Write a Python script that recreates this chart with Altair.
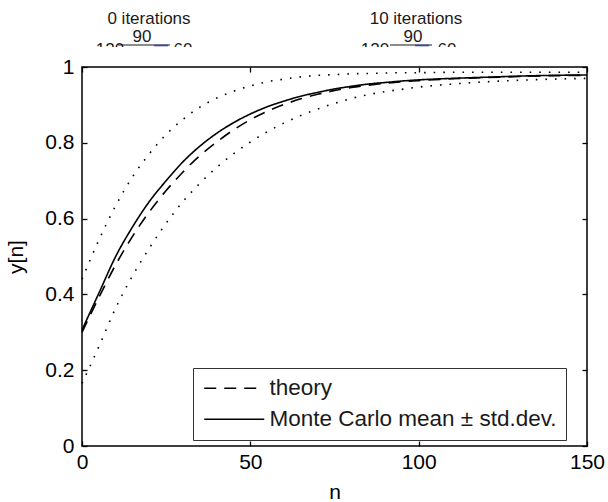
import altair as alt
import pandas as pd

# ---- data ----
n_vals = [0, 5, 10, 15, 20, 25, 30, 35, 40, 45, 50, 55, 60, 65, 70, 75, 80, 85, 90, 95, 100,
          110, 120, 130, 140, 150]
theory = [0.300, 0.392, 0.478, 0.553, 0.618, 0.674, 0.723, 0.766, 0.802, 0.834, 0.861, 0.883,
          0.901, 0.916, 0.928, 0.938, 0.946, 0.952, 0.957, 0.961, 0.964,
          0.969, 0.972, 0.975, 0.977, 0.978]
mc_mean = [0.306, 0.403, 0.500, 0.578, 0.645, 0.700, 0.750, 0.791, 0.825, 0.853, 0.876, 0.895,
           0.910, 0.923, 0.933, 0.942, 0.949, 0.955, 0.959, 0.963, 0.966,
           0.970, 0.973, 0.976, 0.978, 0.979]
mc_upper = [0.440, 0.543, 0.634, 0.710, 0.771, 0.822, 0.862, 0.894, 0.918, 0.936, 0.950, 0.961,
            0.968, 0.974, 0.978, 0.980, 0.982, 0.983, 0.984, 0.985, 0.985,
            0.986, 0.986, 0.986, 0.986, 0.986]
mc_lower = [0.165, 0.262, 0.364, 0.449, 0.522, 0.588, 0.645, 0.693, 0.735, 0.771, 0.802, 0.829,
            0.852, 0.872, 0.889, 0.904, 0.917, 0.927, 0.935, 0.941, 0.947,
            0.955, 0.961, 0.965, 0.968, 0.970]

x_ticks = [0, 50, 100, 150]
y_ticks = [0, 0.2, 0.4, 0.6, 0.8, 1]

THEORY = "theory"
MC = "Monte Carlo mean \u00b1 std.dev."
UP = "mean + std.dev."
LO = "mean - std.dev."

rows = []
for name, vals in [(THEORY, theory), (MC, mc_mean), (UP, mc_upper), (LO, mc_lower)]:
    for n, v in zip(n_vals, vals):
        rows.append({"n": n, "y": v, "series": name})
df = pd.DataFrame(rows)

FONT = "Liberation Sans"

x_scale = alt.Scale(domain=[0, 150], nice=False, zero=False)
y_scale = alt.Scale(domain=[0, 1], nice=False)
dash_scale = alt.Scale(domain=[THEORY, MC, UP, LO],
                       range=[[12, 8], [1, 0], [1.6, 8], [1.6, 8]])

common_axis = dict(offset=-5, tickSize=5, domain=False, grid=False, tickColor="black",
                   tickWidth=1.3, labelFont=FONT, labelFontSize=21, labelColor="black",
                   labelFlush=False, labelOverlap=False, titleFont=FONT, titleFontSize=21,
                   titleFontWeight="normal", titleColor="black")

main = alt.Chart(df).mark_line(color="black", strokeWidth=1.6, interpolate="monotone",
                               strokeCap="butt").encode(
    x=alt.X("n:Q", scale=x_scale,
            axis=alt.Axis(values=x_ticks, title="n", orient="bottom", labelPadding=5,
                          titlePadding=9, **common_axis)),
    y=alt.Y("y:Q", scale=y_scale,
            axis=alt.Axis(values=y_ticks, format="~g", title="y[n]", orient="left",
                          labelPadding=8, titlePadding=18, **common_axis)),
    strokeDash=alt.StrokeDash(
        "series:N", scale=dash_scale,
        legend=alt.Legend(title=None, orient="none", legendX=111, legendY=301,
                          values=[THEORY, MC], symbolType="M-4,0H4", symbolSize=225,
                          symbolOffset=21,
                          symbolStrokeWidth=1.6, symbolStrokeColor="black",
                          labelFont=FONT, labelFontSize=22.5, labelColor="#1a1a1a",
                          labelLimit=1000, labelOffset=24, strokeColor="#333333",
                          fillColor="white", padding=9, rowPadding=8)),
    order="n:Q",
)

ghost_axis = dict(common_axis)
ghost = alt.Chart(df).mark_line(opacity=0).encode(
    x=alt.X("n:Q", scale=x_scale,
            axis=alt.Axis(values=x_ticks, title=None, orient="top", labels=False,
                          **ghost_axis)),
    y=alt.Y("y:Q", scale=y_scale,
            axis=alt.Axis(values=y_ticks, title=None, orient="right", labels=False,
                          **ghost_axis)),
    detail="series:N",
)

one = pd.DataFrame({"a": [0]})


def txt(label, x, y, size=17, baseline="middle"):
    return alt.Chart(one).mark_text(font=FONT, fontSize=size, color="#1a1a1a",
                                    baseline=baseline, align="center").encode(
        x=alt.value(x), y=alt.value(y), text=alt.value(label))


def seg(x1, x2, y, color="#1a1a1a", w=1.2):
    return alt.Chart(one).mark_rule(color=color, strokeWidth=w).encode(
        x=alt.value(x1), x2=alt.value(x2), y=alt.value(y))


def cover(x1, x2, y1, y2):
    return alt.Chart(one).mark_rect(color="white").encode(
        x=alt.value(x1), x2=alt.value(x2), y=alt.value(y1), y2=alt.value(y2))


annots = [
    txt("0 iterations", 67, -48),
    txt("10 iterations", 334, -48),
    txt("90", 60, -25, baseline="alphabetic"),
    txt("120", 28, -12, baseline="alphabetic"),
    txt("60", 101, -12, baseline="alphabetic"),
    txt("90", 331, -25, baseline="alphabetic"),
    txt("120", 293, -12, baseline="alphabetic"),
    txt("60", 365, -12, baseline="alphabetic"),
    cover(5, 125, -20, -6),
    cover(275, 395, -20, -6),
    seg(36, 88, -22),
    seg(308, 350, -22),
    seg(72, 86, -21.5, color="#3344bb", w=1.6),
    seg(333, 347, -21.5, color="#3344bb", w=1.6),
]

chart = alt.layer(main, ghost, *annots).resolve_axis(
    x="independent", y="independent"
).properties(
    width=505, height=379,
    padding={"left": 82, "top": 67, "right": 21, "bottom": 56},
    autosize=alt.AutoSizeParams(type="none"),
    background="white",
).configure_view(stroke="black", strokeWidth=1.5)

chart.save("out.html", embed_options={"renderer": "svg", "actions": False})
